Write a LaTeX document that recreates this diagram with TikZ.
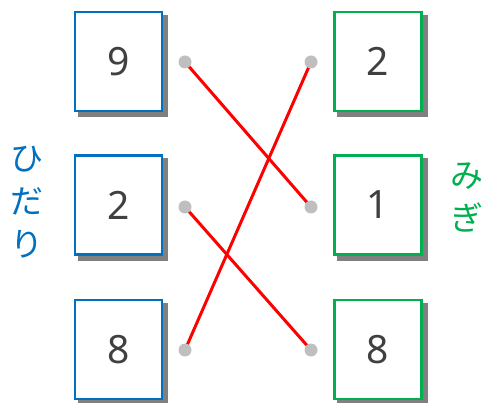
\documentclass[tikz,border=0pt]{standalone}
\usepackage{fontspec}
\setmainfont{Noto Sans}
\newfontfamily\jpfont{Noto Sans CJK JP}
\usetikzlibrary{backgrounds}
\definecolor{MatchBlue}{HTML}{0070C0}
\definecolor{MatchGreen}{HTML}{00B050}
\definecolor{MatchRed}{HTML}{FF0000}
\definecolor{MatchDot}{HTML}{BFBFBF}
\definecolor{MatchInk}{HTML}{404040}
\definecolor{MatchShadow}{HTML}{808080}

\begin{document}
\begin{tikzpicture}[x=1pt,y=-1pt,
    numbox/.style={draw,fill=white,line width=2.4pt,
      minimum width=87pt,minimum height=99pt,inner sep=0pt,
      text=MatchInk,font=\fontsize{39}{42}\selectfont},
    leftbox/.style={numbox,draw=MatchBlue},
    rightbox/.style={numbox,draw=MatchGreen},
    dot/.style={circle,fill=MatchDot,inner sep=0pt,minimum size=13pt},
    link/.style={MatchRed,line width=3pt},
    sidelabel/.style={font=\jpfont\fontsize{33}{43}\selectfont,align=center}]
  \useasboundingbox (0,0) rectangle (490,403);

  % left column
  \node[leftbox] (l9) at (118.5,61.5) {9};
  \node[leftbox] (l2) at (118.5,205) {2};
  \node[leftbox] (l8) at (118.5,349.5) {8};
  % right column
  \node[rightbox] (r2) at (378,61.5) {2};
  \node[rightbox] (r1) at (378,205) {1};
  \node[rightbox] (r8) at (378,349.5) {8};

  % dots
  \node[dot] (dl9) at (185,62) {};
  \node[dot] (dl2) at (185,207) {};
  \node[dot] (dl8) at (185,350) {};
  \node[dot] (dr2) at (311,62) {};
  \node[dot] (dr1) at (311,207) {};
  \node[dot] (dr8) at (311,350) {};

  \begin{scope}[on background layer]
    % box shadows
    \foreach \b in {l9,l2,l8,r2,r1,r8}
      \fill[MatchShadow] ([shift={(4,4)}]\b.north west)
        rectangle ([shift={(5.2,5.2)}]\b.south east);
    % matching lines
    \draw[link] (dl9.center) -- (dr1.center);
    \draw[link] (dl2.center) -- (dr8.center);
    \draw[link] (dl8.center) -- (dr2.center);
  \end{scope}

  \node[sidelabel,text=MatchBlue] (hidari) at (27,202) {ひ\\だ\\り};
  \node[sidelabel,text=MatchGreen] (migi) at (467,197) {み\\ぎ};
\end{tikzpicture}
\end{document}
